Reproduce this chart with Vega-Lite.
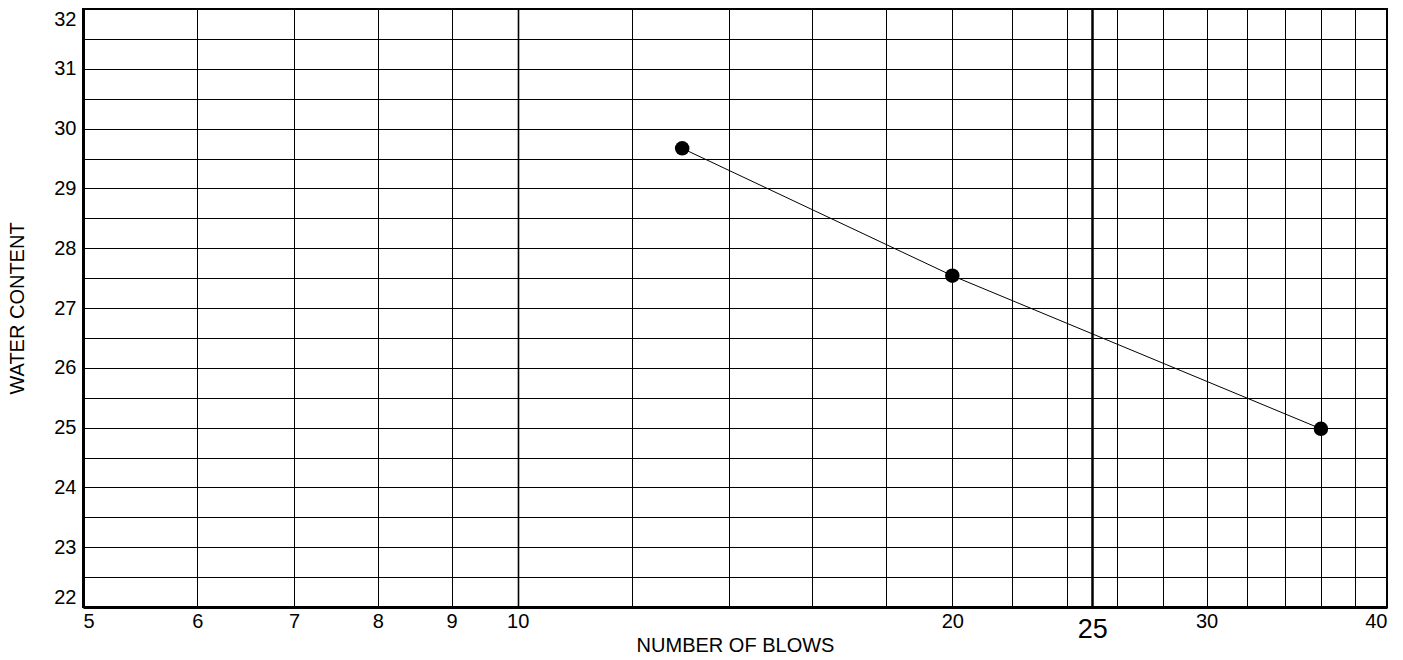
{
  "$schema": "https://vega.github.io/schema/vega-lite/v6.json",
  "autosize": {"type": "none"},
  "padding": {"left": 83, "top": 9, "right": 16, "bottom": 53},
  "width": 1304,
  "height": 598,
  "background": "white",
  "config": {
    "font": "Liberation Sans",
    "view": {"stroke": "black", "strokeWidth": 2},
    "axis": {
      "labelFont": "Liberation Sans",
      "titleFont": "Liberation Sans",
      "labelColor": "black",
      "titleColor": "black",
      "titleFontWeight": "normal",
      "labelFontSize": 20,
      "titleFontSize": 20,
      "grid": true,
      "gridColor": "black",
      "gridOpacity": 1,
      "gridWidth": 1,
      "ticks": false,
      "domainColor": "black",
      "domainWidth": 3,
      "labelOverlap": false,
      "labelBound": false,
      "labelFlush": true
    }
  },
  "data": {
    "values": [
      {"blows": 13, "water": 29.67},
      {"blows": 20, "water": 27.54},
      {"blows": 36, "water": 24.98}
    ]
  },
  "encoding": {
    "x": {
      "field": "blows",
      "type": "quantitative",
      "scale": {"type": "log", "domain": [5, 40], "nice": false},
      "axis": {
        "title": "NUMBER OF BLOWS",
        "values": [5, 6, 7, 8, 9, 10, 12, 14, 16, 18, 20, 22, 24, 25, 26, 28, 30, 32, 34, 36, 38, 40],
        "labelExpr": "indexof([5,6,7,8,9,10,20,25,30,40], datum.value) >= 0 ? '' + datum.value : ''",
        "labelPadding": {"condition": {"test": "datum.value == 25", "value": 9}, "value": 4},
        "titleY": 28,
        "titleBaseline": "top",
        "gridWidth": {"condition": [{"test": "datum.value == 25", "value": 2.5}, {"test": "datum.value == 10", "value": 1.6}], "value": 1},
        "labelFontSize": {"condition": {"test": "datum.value == 25", "value": 27}, "value": 20}
      }
    },
    "y": {
      "field": "water",
      "type": "quantitative",
      "scale": {"domain": [22, 32], "nice": false, "zero": false},
      "axis": {
        "title": "WATER CONTENT",
        "values": [22, 22.5, 23, 23.5, 24, 24.5, 25, 25.5, 26, 26.5, 27, 27.5, 28, 28.5, 29, 29.5, 30, 30.5, 31, 31.5, 32],
        "labelExpr": "datum.value % 1 == 0 ? '' + datum.value : ''",
        "labelPadding": 7,
        "titlePadding": 26
      }
    }
  },
  "layer": [
    {"mark": {"type": "line", "color": "black", "strokeWidth": 1}},
    {"mark": {"type": "point", "filled": true, "color": "black", "opacity": 1, "size": 210}}
  ]
}
